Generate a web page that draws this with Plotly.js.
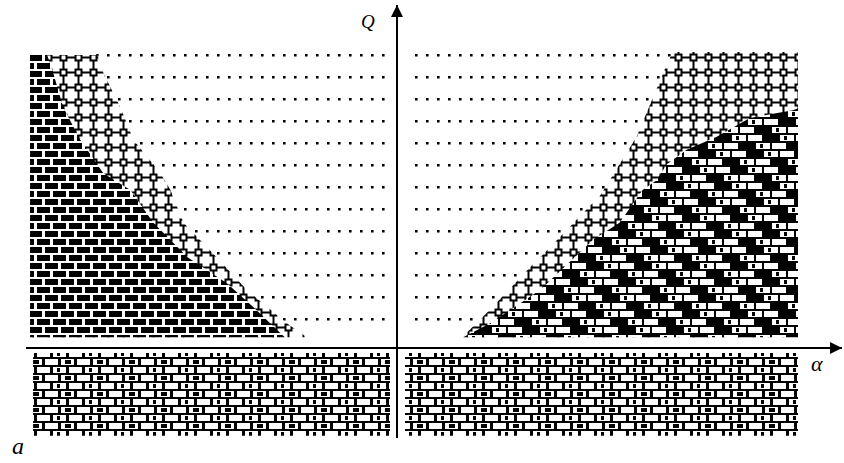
<!DOCTYPE html>
<html>
<head>
<meta charset="utf-8">
<script src="https://cdn.plot.ly/plotly-3.0.1.min.js"></script>
<style>html,body{margin:0;padding:0;background:#fff;}#chart{width:844px;height:463px;}</style>
</head>
<body>
<div id="chart"></div>
<script>
// ---- data (α along x, Q along y) ----
// right upper region: boundary between dotted field and square-grid field (bottom -> top)
const alphaRightOuter = [0.65, 0.93, 1.33, 1.43, 2.03, 2.22, 2.39, 2.67, 2.75];
const qRightOuter     = [0.11, 0.39, 0.82, 0.92, 1.55, 1.86, 2.14, 2.82, 3.00];
// right upper region: boundary between square-grid field and brick field (bottom -> right edge)
const alphaRightInner = [0.66, 0.93, 1.43, 1.96, 2.22, 2.45, 2.59, 2.69, 2.89, 3.19, 3.52, 3.95, 4.00];
const qRightInner     = [0.11, 0.25, 0.59, 1.10, 1.27, 1.60, 1.70, 1.86, 2.01, 2.14, 2.33, 2.41, 2.43];
// left upper region: boundary between square-grid field and dotted field (top -> bottom)
const alphaLeftOuter = [-2.99, -2.93, -2.76, -2.63, -2.36, -2.26, -2.13, -1.80, -1.50, -1.10, -0.90];
const qLeftOuter     = [2.97, 2.79, 2.44, 2.11, 1.77, 1.60, 1.27, 0.92, 0.59, 0.25, 0.11];
// left upper region: boundary between brick field and square-grid field (top -> bottom)
const alphaLeftInner = [-3.49, -3.43, -3.33, -3.16, -2.93, -2.66, -2.43, -2.09, -1.70, -1.44, -1.12];
const qLeftInner     = [2.97, 2.79, 2.44, 2.11, 1.77, 1.60, 1.27, 0.92, 0.66, 0.42, 0.11];
// extents of the fields
const alphaLeftEdge = -3.66, alphaRightEdge = 4.00;
const qUpperTop = 3.02, qLeftTop = 2.97, qRightTop = 3.00, qUpperBottom = 0.11;
const alphaDotsLeft = [-3.00, -0.12], alphaDotsRight = [0.12, 4.00];
const alphaLowerLeft = [-3.63, -0.07], alphaLowerRight = [0.08, 4.00];
const qLower = [-0.05, -0.89];
// axis extents
const alphaRange = [-3.701, 4.439], qRange = [-0.912, 3.476];
const axisLabels = {q: 'Q', alpha: 'α', panel: 'a'};

// ---- pattern tiles (style only) ----
function rc(x0, y0, x1, y1, hole) {
  return hole ? `M${x0},${y0}V${y1}H${x1}V${y0}Z` : `M${x0},${y0}H${x1}V${y1}H${x0}Z`;
}
// brick tile: W wide, rows of height h, bricks of length len, joint j, bed gap m
function bricks(W, h, len, j, m, mode, dark, mark) {
  const nRows = Math.round(W / h), n = Math.round(W / len);
  let p = mode === 'holes' ? rc(0, 0, W, W) : '';
  for (let r = 0; r < nRows; r++) {
    const off = (r % 2) * len / 2, y0 = r * h + m, y1 = (r + 1) * h;
    for (let k = -1; k <= n; k++) {
      const x0 = off + k * len + j, x1 = off + (k + 1) * len;
      const a = Math.max(x0, 0), b = Math.min(x1, W);
      if (b <= a) continue;
      const km = ((k % n) + n) % n;
      if (mode === 'holes') {
        if (!(dark && dark(r, km))) {
          p += rc(a, y0, b, y1, true);
          const mw = mark ? mark(r, km) : 0;
          if (mw) {
            const c0 = Math.max(x0 + 4, 0), c1 = Math.min(x0 + 4 + mw, W);
            if (c1 > c0) p += rc(c0, y0 + 1, c1, y1 - 1);
          }
        }
      } else {
        p += rc(a, y0, b, y1);
      }
    }
  }
  return p;
}
const lowerBrick = bricks(32, 8, 16, 3, 2, 'holes', null,
  (r, k) => (r % 2 === 0 ? (k === 0 ? 6 : 0) : (k === 1 ? 3 : 0)));
const rightBrick = bricks(48, 8, 16, 2, 2, 'holes', (r, k) => k === (r % 3),
  (r, k) => (k === ((r + 1) % 3) ? 3 : 0));
const leftBrick = bricks(32, 8, 16, 3, 2, 'solid');
const squareGrid = rc(3.5, 3.5, 11.5, 11.5) + rc(5.5, 5.5, 9.5, 9.5, true) +
  rc(6.5, 0, 8.5, 3.5) + rc(6.5, 11.5, 8.5, 15) + rc(0, 6.5, 3.5, 8.5) + rc(11.5, 6.5, 15, 8.5);
const dotGrid = rc(4, 5, 6.6, 7.6) + rc(15, 5, 17.6, 7.6);

function region(xs, ys, path, size, fallback) {
  return {
    type: 'scatter', mode: 'lines', x: xs, y: ys, fill: 'toself',
    line: {width: 0, color: 'rgba(0,0,0,0)'}, fillcolor: fallback,
    fillpattern: {path: path, size: size, fgcolor: '#000', bgcolor: '#fff', fgopacity: 1},
    hoverinfo: 'skip', showlegend: false
  };
}

const traces = [
  region([alphaDotsLeft[0], alphaDotsLeft[1], alphaDotsLeft[1], alphaDotsLeft[0]],
         [qUpperBottom, qUpperBottom, qUpperTop, qUpperTop], dotGrid, 22, '#f2f2f2'),
  region([alphaDotsRight[0], alphaDotsRight[1], alphaDotsRight[1], alphaDotsRight[0]],
         [qUpperBottom, qUpperBottom, qUpperTop, qUpperTop], dotGrid, 22, '#f2f2f2'),
  region([...alphaRightOuter, alphaRightEdge, alphaRightEdge], [...qRightOuter, qRightTop, qUpperBottom], squareGrid, 15, '#888'),
  region([...alphaLeftOuter, alphaLeftEdge, alphaLeftEdge], [...qLeftOuter, qUpperBottom, qLeftTop], squareGrid, 15, '#888'),
  region([...alphaRightInner, alphaRightEdge], [...qRightInner, qUpperBottom], rightBrick, 48, '#666'),
  region([...alphaLeftInner, alphaLeftEdge, alphaLeftEdge], [...qLeftInner, qUpperBottom, qLeftTop], leftBrick, 32, '#444'),
  region([alphaLowerLeft[0], alphaLowerLeft[1], alphaLowerLeft[1], alphaLowerLeft[0]],
         [qLower[0], qLower[0], qLower[1], qLower[1]], lowerBrick, 32, '#777'),
  region([alphaLowerRight[0], alphaLowerRight[1], alphaLowerRight[1], alphaLowerRight[0]],
         [qLower[0], qLower[0], qLower[1], qLower[1]], lowerBrick, 32, '#777')
];

const serif = 'Liberation Serif, DejaVu Serif, serif';
const layout = {
  width: 844, height: 463,
  margin: {l: 26, r: 2, t: 5, b: 25, pad: 0},
  paper_bgcolor: '#fff', plot_bgcolor: '#fff',
  xaxis: {range: alphaRange, showgrid: false, showticklabels: false, ticks: '', showline: false,
          zeroline: true, zerolinecolor: '#000', zerolinewidth: 2, fixedrange: true},
  yaxis: {range: qRange, showgrid: false, showticklabels: false, ticks: '', showline: false,
          zeroline: true, zerolinecolor: '#000', zerolinewidth: 2, fixedrange: true},
  annotations: [
    {x: 0, y: qRange[1], xref: 'x', yref: 'y', ax: 0, ay: 30, text: '', showarrow: true,
     arrowhead: 2, arrowsize: 1.6, arrowwidth: 1.5, arrowcolor: '#000', standoff: 0},
    {x: alphaRange[1], y: 0, xref: 'x', yref: 'y', ax: -30, ay: 0, text: '', showarrow: true,
     arrowhead: 2, arrowsize: 1.6, arrowwidth: 1.5, arrowcolor: '#000', standoff: 0},
    {x: -0.29, y: 3.31, xref: 'x', yref: 'y', text: '<i>' + axisLabels.q + '</i>', showarrow: false,
     font: {family: serif, size: 19, color: '#000'}},
    {x: 4.19, y: -0.16, xref: 'x', yref: 'y', text: '<i>' + axisLabels.alpha + '</i>', showarrow: false,
     font: {family: serif, size: 22, color: '#000'}},
    {x: -0.020, y: -0.052, xref: 'paper', yref: 'paper', text: '<i>' + axisLabels.panel + '</i>', showarrow: false,
     font: {family: serif, size: 24, color: '#000'}}
  ]
};

Plotly.newPlot('chart', traces, layout, {staticPlot: true, displayModeBar: false});
</script>
</body>
</html>
